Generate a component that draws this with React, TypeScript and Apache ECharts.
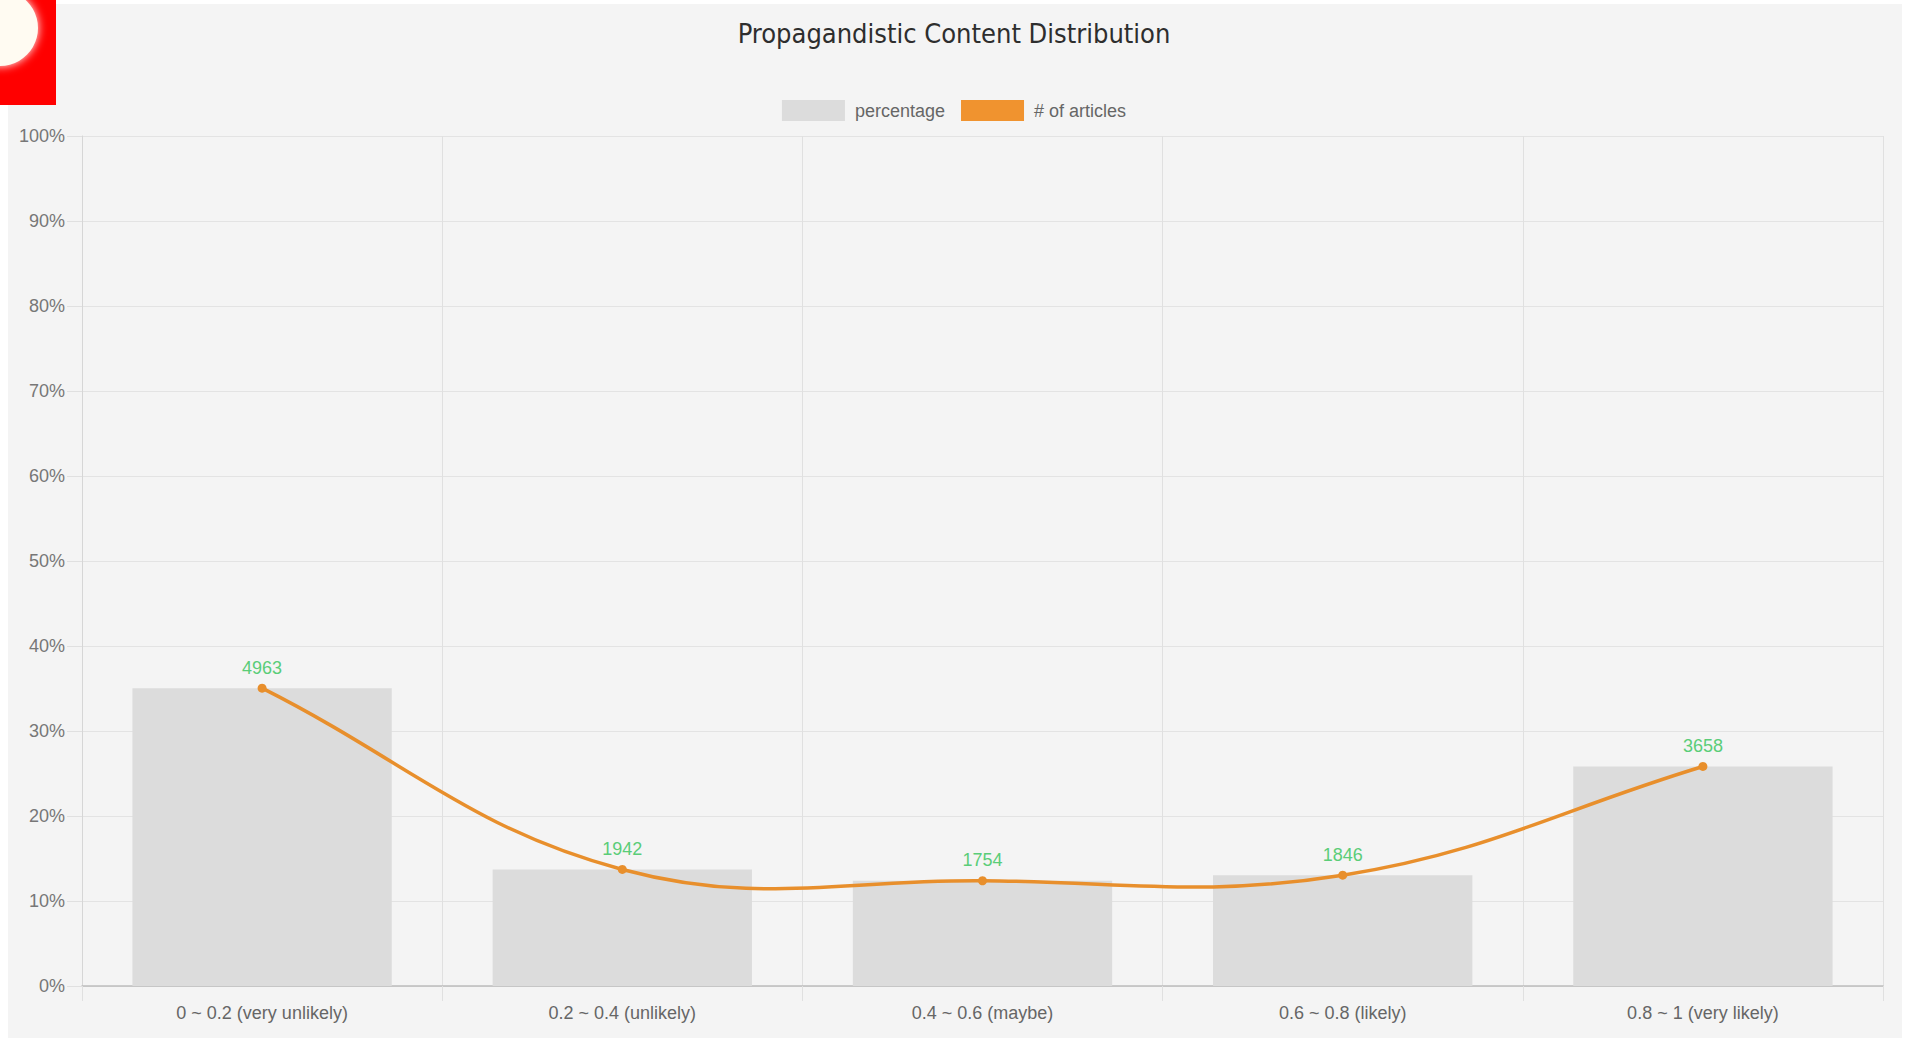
import React, { useEffect, useRef } from "react";
import * as echarts from "echarts";

const categories = [
  "0 ~ 0.2 (very unlikely)",
  "0.2 ~ 0.4 (unlikely)",
  "0.4 ~ 0.6 (maybe)",
  "0.6 ~ 0.8 (likely)",
  "0.8 ~ 1 (very likely)",
];
const percentages = [35.04, 13.71, 12.38, 13.03, 25.83];
const articles = [4963, 1942, 1754, 1846, 3658];
const yTicks = { min: 0, max: 100, interval: 10 };

const LINE_COLOR = "#e88f2c";
const TENSION = 0.4;

export default function App() {
  const ref = useRef<HTMLDivElement>(null);
  useEffect(() => {
    if (!ref.current) return;
    const chart = echarts.init(ref.current, undefined, { renderer: "svg" });
    const total = articles.reduce((a, b) => a + b, 0);
    const font = "'Liberation Sans', Arial, Helvetica, sans-serif";

    const renderSegment = (params: any, api: any) => {
      const i = api.value(0) as number;
      const n = articles.length;
      if (i >= n - 1) return null;
      const pt = (j: number) => {
        const k = Math.max(0, Math.min(n - 1, j));
        return api.coord([k, articles[k]]) as number[];
      };
      const ctrl = (j: number) => {
        const prev = pt(j - 1);
        const cur = pt(j);
        const next = pt(j + 1);
        const d01 = Math.hypot(cur[0] - prev[0], cur[1] - prev[1]);
        const d12 = Math.hypot(next[0] - cur[0], next[1] - cur[1]);
        const sum = d01 + d12 || 1;
        const fa = (TENSION * d01) / sum;
        const fb = (TENSION * d12) / sum;
        const dx = next[0] - prev[0];
        const dy = next[1] - prev[1];
        return {
          before: [cur[0] - fa * dx, cur[1] - fa * dy],
          after: [cur[0] + fb * dx, cur[1] + fb * dy],
        };
      };
      const p0 = pt(i);
      const p1 = pt(i + 1);
      const c0 = ctrl(i).after;
      const c1 = ctrl(i + 1).before;
      return {
        type: "bezierCurve",
        shape: {
          x1: p0[0],
          y1: p0[1],
          x2: p1[0],
          y2: p1[1],
          cpx1: c0[0],
          cpy1: c0[1],
          cpx2: c1[0],
          cpy2: c1[1],
        },
        style: { stroke: LINE_COLOR, lineWidth: 3.5, fill: "none" },
        silent: true,
      };
    };

    chart.setOption({
      animation: false,
      backgroundColor: "#ffffff",
      graphic: [
        {
          type: "rect",
          z: -10,
          silent: true,
          shape: { x: 8, y: 4, width: 1894, height: 1040 },
          style: { fill: "#f4f4f4" },
        },
        {
          type: "group",
          z: 100,
          silent: true,
          children: [
            { type: "rect", shape: { x: 0, y: 0, width: 56, height: 105 }, style: { fill: "#ff0000" } },
            {
              type: "circle",
              shape: { cx: 0, cy: 28, r: 38 },
              style: { fill: "#fffbf2", shadowBlur: 10, shadowColor: "#ffffff" },
            },
          ],
        },
      ],
      title: {
        text: "Propagandistic Content Distribution",
        left: "center",
        top: 15,
        textStyle: {
          fontFamily: "'DejaVu Sans Condensed', 'Liberation Sans Narrow', sans-serif",
          fontSize: 27,
          fontWeight: "normal",
          color: "#2e2e2e",
        },
      },
      legend: {
        top: 95,
        left: "center",
        itemWidth: 63,
        itemHeight: 21,
        itemGap: 16,
        icon: "rect",
        textStyle: { fontFamily: font, fontSize: 18, color: "#666666", padding: [0, 0, 0, 5] },
        data: [
          { name: "percentage", itemStyle: { color: "#dcdcdc" } },
          { name: "# of articles", itemStyle: { color: "#f0932f" } },
        ],
      },
      grid: { left: 82, right: 25, top: 136, bottom: 52, containLabel: false },
      xAxis: {
        type: "category",
        data: categories,
        boundaryGap: true,
        axisLine: { show: true, lineStyle: { color: "#bdbdbd", width: 1.5 } },
        axisTick: { show: true, length: 15, alignWithLabel: false, lineStyle: { color: "#e0e0e0" } },
        splitLine: {
          show: true,
          interval: (i: number) => i < categories.length,
          lineStyle: { color: "#e0e0e0" },
        },
        axisLabel: { margin: 18, fontFamily: font, fontSize: 18, color: "#666666" },
      },
      yAxis: [
        {
          type: "value",
          min: yTicks.min,
          max: yTicks.max,
          interval: yTicks.interval,
          axisLine: { show: true, lineStyle: { color: "#d6d6d6" } },
          axisTick: { show: true, length: 15, lineStyle: { color: "#e0e0e0" } },
          splitLine: { show: true, lineStyle: { color: "#e3e3e3" } },
          axisLabel: { formatter: "{value}%", margin: 17, fontFamily: font, fontSize: 18, color: "#777777" },
        },
        {
          type: "value",
          min: 0,
          max: total,
          show: false,
          splitLine: { show: false },
        },
      ],
      series: [
        {
          name: "percentage",
          type: "bar",
          data: percentages,
          barWidth: "72%",
          itemStyle: { color: "#dcdcdc" },
          yAxisIndex: 0,
          z: 1,
        },
        {
          name: "articles-curve",
          type: "custom",
          yAxisIndex: 1,
          data: articles.map((v, i) => [i, v]),
          renderItem: renderSegment,
          z: 4,
          silent: true,
        },
        {
          name: "# of articles",
          type: "line",
          data: articles,
          yAxisIndex: 1,
          symbol: "circle",
          symbolSize: 9,
          itemStyle: { color: LINE_COLOR },
          lineStyle: { color: LINE_COLOR, width: 3.5, opacity: 0 },
          label: {
            show: true,
            position: "top",
            distance: 7,
            fontFamily: font,
            fontSize: 18,
            color: "#5acd78",
          },
          z: 5,
        },
      ],
    });
    return () => chart.dispose();
  }, []);
  return (
    <div
      ref={ref}
      style={{ position: "fixed", left: 0, top: 0, width: 1908, height: 1038 }}
    />
  );
}
